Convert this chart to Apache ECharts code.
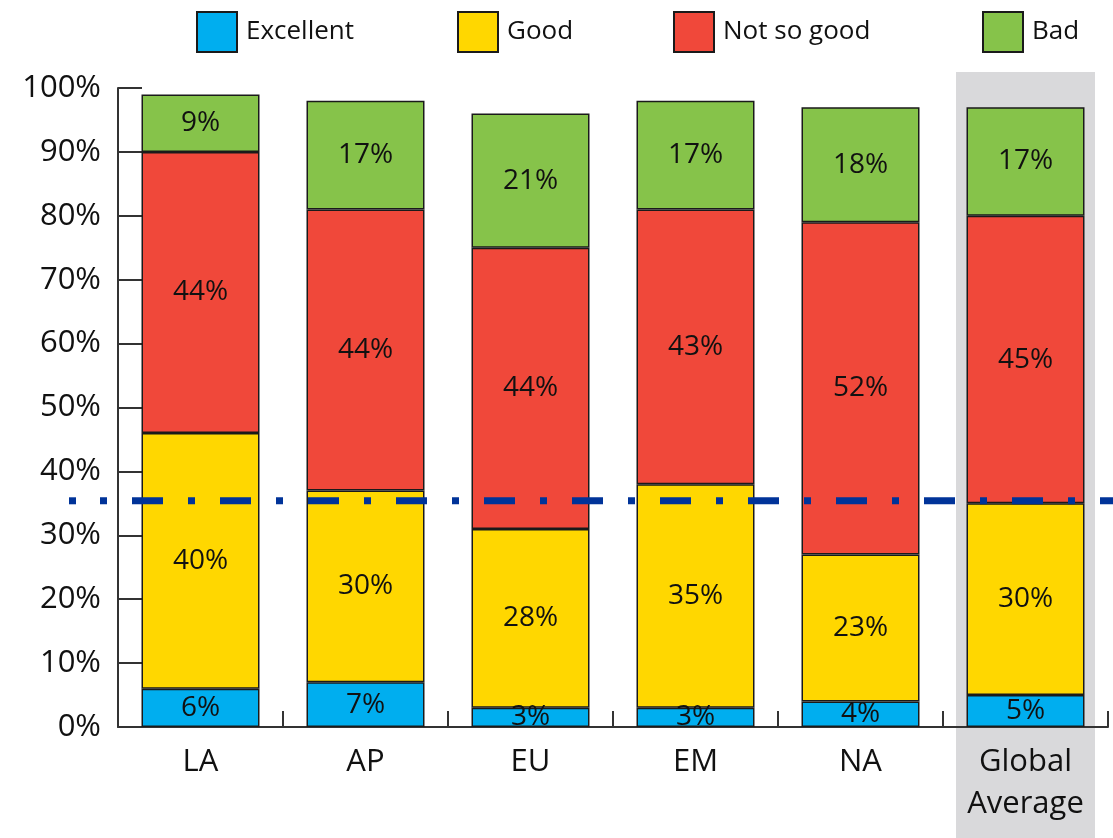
<!DOCTYPE html>
<html>
<head>
<meta charset="utf-8">
<script src="https://cdn.jsdelivr.net/npm/echarts@6/dist/echarts.min.js"></script>
<style>
  html, body { margin: 0; padding: 0; background: #ffffff; }
  #chart { width: 1113px; height: 838px; }
</style>
</head>
<body>
<div id="chart"></div>
<script>
// Regions and survey answers (percent of respondents)
const categories = ['LA', 'AP', 'EU', 'EM', 'NA', 'Global\nAverage'];
const excellent  = [6, 7, 3, 3, 4, 5];
const good       = [40, 30, 28, 35, 23, 30];
const notSoGood  = [44, 44, 44, 43, 52, 45];
const bad        = [9, 17, 21, 17, 18, 17];
const yTicks     = [0, 10, 20, 30, 40, 50, 60, 70, 80, 90, 100];
// Global "excellent + good" reference level
const referenceLevel = 35.4;

const FONT = '"Open Sans", "Noto Sans", sans-serif';
const TEXT = '#111111';
const AXIS = '#333333';

const seriesDefs = [
  { name: 'Excellent',   data: excellent, color: '#00AEEF' },
  { name: 'Good',        data: good,      color: '#FFD700' },
  { name: 'Not so good', data: notSoGood, color: '#F0483A' },
  { name: 'Bad',         data: bad,       color: '#86C34A' }
];

const legendLeft = [191, 452, 668, 977];

const chart = echarts.init(document.getElementById('chart'), null, { renderer: 'canvas' });

const option = {
  backgroundColor: '#ffffff',
  animation: false,
  textStyle: { fontFamily: FONT },
  grid: { left: 118, right: 5, top: 88, bottom: 111, containLabel: false },
  legend: seriesDefs.map((s, i) => ({
    data: [s.name],
    left: legendLeft[i],
    top: 6,
    itemWidth: 40,
    itemHeight: 40,
    icon: 'rect',
    itemStyle: { borderColor: '#1a1a1a', borderWidth: 2 },
    textStyle: { fontSize: 26, color: TEXT, fontFamily: FONT, padding: [0, 0, 20, 4] },
    selectedMode: false
  })),
  xAxis: {
    type: 'category',
    data: categories,
    axisLine: { show: true, lineStyle: { color: AXIS, width: 2 } },
    axisTick: { show: true, inside: true, length: 16, interval: 0, lineStyle: { color: AXIS, width: 2 } },
    axisLabel: { fontSize: 31, color: TEXT, fontFamily: FONT, margin: 14, lineHeight: 42, interval: 0 },
    splitLine: { show: false }
  },
  yAxis: {
    type: 'value',
    min: yTicks[0],
    max: yTicks[yTicks.length - 1],
    interval: 10,
    axisLine: { show: true, lineStyle: { color: AXIS, width: 2 } },
    axisTick: { show: true, inside: true, length: 24, lineStyle: { color: AXIS, width: 2 } },
    axisLabel: { fontSize: 31, color: TEXT, fontFamily: FONT, margin: 17, formatter: '{value}%' },
    splitLine: { show: false }
  },
  series: seriesDefs.map(s => ({
    name: s.name,
    type: 'bar',
    stack: 'total',
    barWidth: 118,
    data: s.data,
    itemStyle: { color: s.color, borderColor: '#1a1a1a', borderWidth: 1.5 },
    label: {
      show: true,
      position: 'inside',
      formatter: '{c}%',
      fontSize: 28,
      color: TEXT,
      fontFamily: FONT
    },
    z: 2
  }))
};

chart.setOption(option);

// Shaded band behind the global average column and the reference line
function drawOverlays() {
  const last = categories.length - 1;
  const cx = chart.convertToPixel({ xAxisIndex: 0 }, last);
  const yRef = chart.convertToPixel({ yAxisIndex: 0 }, referenceLevel);
  const yTop = chart.convertToPixel({ yAxisIndex: 0 }, yTicks[yTicks.length - 1]);
  const W = chart.getWidth();
  const H = chart.getHeight();
  chart.setOption({
    graphic: [
      {
        type: 'rect',
        z: -10,
        silent: true,
        shape: { x: cx - 69.5, y: yTop - 16, width: 139, height: H - (yTop - 16) },
        style: { fill: '#D9D9DB' }
      },
      {
        type: 'line',
        z: 100,
        silent: true,
        shape: { x1: 69, y1: yRef, x2: 76, y2: yRef },
        style: { stroke: '#003399', lineWidth: 7 }
      },
      {
        type: 'line',
        z: 100,
        silent: true,
        shape: { x1: 100, y1: yRef, x2: W, y2: yRef },
        style: { stroke: '#003399', lineWidth: 7, lineDash: [7, 25, 31, 25] }
      }
    ]
  });
}
drawOverlays();
</script>
</body>
</html>
